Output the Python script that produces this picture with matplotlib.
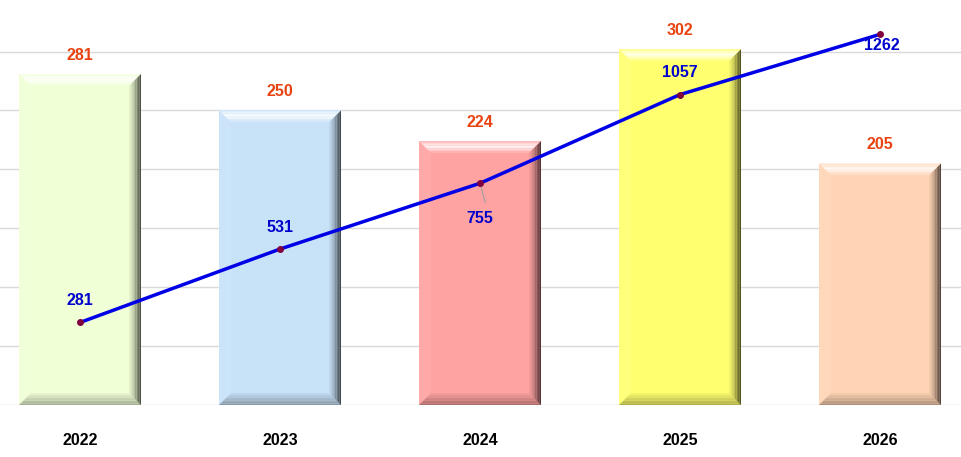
import matplotlib.pyplot as plt
from matplotlib.patches import Polygon
import numpy as np

plt.rcParams['font.family'] = ['Liberation Sans', 'DejaVu Sans']

# Data
years = ['2022', '2023', '2024', '2025', '2026']
annual = [281, 250, 224, 302, 205]
cumulative = [281, 531, 755, 1057, 1262]
bar_colors = ['#F0FFD6', '#C8E2F8', '#FFA2A2', '#FFFF70', '#FFD4B4']


def shade(color, f):
    c = np.array(plt.matplotlib.colors.to_rgb(color))
    if f > 0:
        c = c + (1 - c) * f
    else:
        c = c * (1 + f)
    return tuple(np.clip(c, 0, 1))


fig = plt.figure(figsize=(9.62, 4.57), dpi=100)
ax = fig.add_axes([0, 52 / 457, 1, 405 / 457])
ax.set_xlim(-0.4, 4.41)
ax.set_ylim(0, 343.8)

# Gridlines
for g in range(50, 350, 50):
    ax.axhline(g, color='#D9D9D9', lw=1, zorder=0)
ax.axhline(0, color='#D0D0D0', lw=1, zorder=0)

x = np.arange(len(years))
w = 0.61
bx = 0.06   # bevel width in x units
by = 10     # bevel height in y units
n = 8

for xi, v, col in zip(x, annual, bar_colors):
    l, r = xi - w / 2, xi + w / 2
    ax.add_patch(plt.Rectangle((l, 0), w, v, facecolor=col, edgecolor='none', zorder=2))
    # left bevel (slightly light)
    ax.add_patch(Polygon([(l, 0), (l, v), (l + bx, v - by), (l + bx, by)],
                         facecolor=shade(col, 0.08), edgecolor='none', zorder=3))
    # bottom bevel (slightly dark gradient)
    for k in range(n):
        t0, t1 = k / n, (k + 1) / n
        ax.add_patch(Polygon([(l + bx * t0, by * t0), (r - bx * t0, by * t0),
                              (r - bx * t1, by * t1), (l + bx * t1, by * t1)],
                             facecolor=shade(col, -0.32 + 0.3 * t0), edgecolor='none', zorder=3))
    # top bevel (light gradient)
    tops = [0.35, 0.55, 0.75, 0.85, 0.8, 0.6, 0.4, 0.2]
    for k in range(n):
        t0, t1 = k / n, (k + 1) / n
        ax.add_patch(Polygon([(l + bx * t0, v - by * t0), (r - bx * t0, v - by * t0),
                              (r - bx * t1, v - by * t1), (l + bx * t1, v - by * t1)],
                             facecolor=shade(col, tops[k]), edgecolor='none', zorder=3))
    # right bevel (dark gradient toward the edge)
    for k in range(n):
        t0, t1 = k / n, (k + 1) / n
        x0 = r - bx + bx * t0
        x1 = r - bx + bx * t1
        ax.add_patch(Polygon([(x0, by - by * t0), (x0, v - by + by * t0),
                              (x1, v - by + by * t1), (x1, by - by * t1)],
                             facecolor=shade(col, -0.05 - 0.75 * t0 ** 1.3), edgecolor='none', zorder=3))
    ax.text(xi, v + 16, str(v), ha='center', va='center', color='#E84210',
            fontsize=11.5, fontweight='bold', zorder=5)

for s in ax.spines.values():
    s.set_visible(False)
ax.set_yticks([])
ax.set_xticks(x)
ax.set_xticklabels(years, fontsize=11.5, fontweight='bold')
ax.tick_params(axis='x', length=0, pad=20)

# Cumulative line on secondary axis
ax2 = ax.twinx()
ax2.set_ylim(0, 1379)
ax2.set_xlim(-0.4, 4.41)
ax2.plot(x, cumulative, color='#0000E6', lw=2.5, zorder=4)
ax2.plot(x, cumulative, 'o', color='#800040', ms=4, zorder=5)
for s in ax2.spines.values():
    s.set_visible(False)
ax2.set_yticks([])

offsets = [(0, 22), (0, 22), (0, -35), (0, 22), (2, -11)]
for xi, v, (dx, dy) in zip(x, cumulative, offsets):
    ax2.annotate(str(v), (xi, v), xytext=(dx, dy), textcoords='offset pixels',
                 ha='center', va='center', color='#0000CC', fontsize=11.5,
                 fontweight='bold', zorder=6)
# leader line for 755
ax2.annotate('', (x[2], cumulative[2]), xytext=(6, -22), textcoords='offset pixels',
             arrowprops=dict(arrowstyle='-', color='#A0A0A0', lw=0.8))

fig.savefig('out.png', dpi=100)
